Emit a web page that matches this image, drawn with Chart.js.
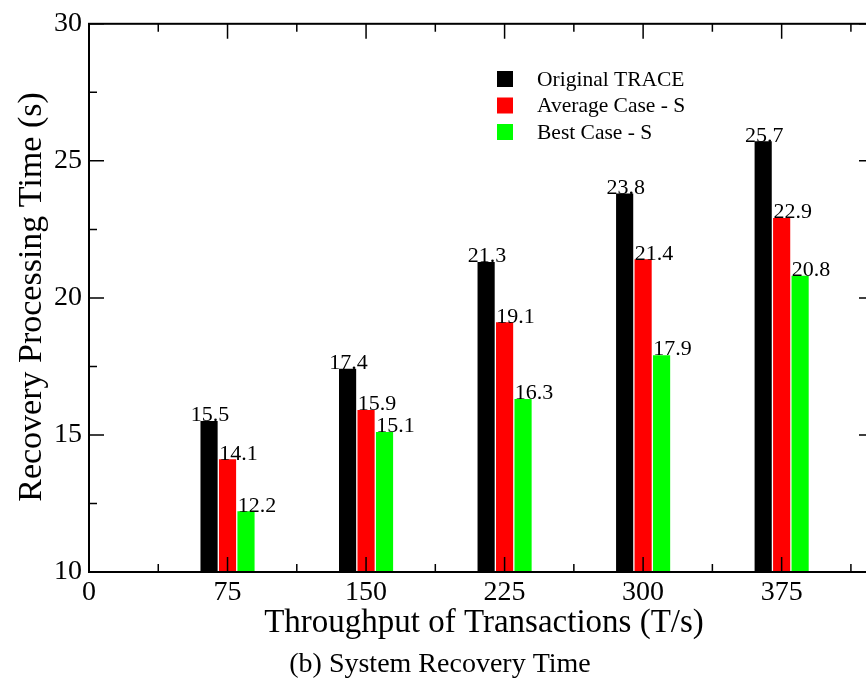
<!DOCTYPE html>
<html>
<head>
<meta charset="utf-8">
<script src="https://cdn.jsdelivr.net/npm/chart.js@4/dist/chart.umd.min.js"></script>
<style>
    html, body { margin: 0; padding: 0; background: #fff; overflow: hidden; }
    canvas { display: block; }
</style>
</head>
<body>
<canvas id="recoveryChart" width="880" height="678"></canvas>
<script>
// ##### Data #####
const throughput = [75, 150, 225, 300, 375]
const originalTrace = [15.5, 17.4, 21.3, 23.8, 25.7]
const averageCase = [14.1, 15.9, 19.1, 21.4, 22.9]
const bestCase = [12.2, 15.1, 16.3, 17.9, 20.8]
const seriesNames = ['Original TRACE', 'Average Case - S', 'Best Case - S']
const seriesColors = ['#000000', '#ff0000', '#00ff00']
const xTicks = [0, 75, 150, 225, 300, 375]
const yTicks = [10, 15, 20, 25, 30]

const SERIF = '"Liberation Serif", "Times New Roman", serif'

// bars sit left / on / right of each throughput value
const groupShift = [-10, 0, 10]
const labelShift = [-10, 0, 0]

function toPoints(values, shift) {
    return throughput.map((t, i) => ({ x: t + shift, y: values[i] }))
}

const decor = {
    id: 'decor',
    afterDatasetsDraw(chart) {
        const ctx = chart.ctx
        const area = chart.chartArea
        const xs = chart.scales.x
        const ys = chart.scales.y
        ctx.save()

        // value labels on top of bars
        ctx.fillStyle = '#000'
        ctx.font = '22px ' + SERIF
        ctx.textAlign = 'left'
        ctx.textBaseline = 'alphabetic'
        chart.data.datasets.forEach((ds, i) => {
            chart.getDatasetMeta(i).data.forEach((bar, j) => {
                const left = bar.x - bar.width / 2
                ctx.fillText(ds.data[j].y.toFixed(1), left + labelShift[i], bar.y)
            })
        })

        // frame
        ctx.strokeStyle = '#000'
        ctx.lineWidth = 2
        ctx.strokeRect(area.left, area.top, area.right - area.left, area.bottom - area.top)

        // ticks, inside, on all four sides
        ctx.lineWidth = 1.5
        ctx.beginPath()
        for (let v = 0; v <= xs.max; v += 37.5) {
            const px = xs.getPixelForValue(v)
            const len = v % 75 === 0 ? 15 : 8
            ctx.moveTo(px, area.bottom)
            ctx.lineTo(px, area.bottom - len)
            ctx.moveTo(px, area.top)
            ctx.lineTo(px, area.top + len)
        }
        for (let v = ys.min; v <= ys.max; v += 2.5) {
            const py = ys.getPixelForValue(v)
            const len = v % 5 === 0 ? 15 : 8
            ctx.moveTo(area.left, py)
            ctx.lineTo(area.left + len, py)
            ctx.moveTo(area.right, py)
            ctx.lineTo(area.right - len, py)
        }
        ctx.stroke()

        // legend
        ctx.font = '21.5px ' + SERIF
        ctx.textBaseline = 'middle'
        seriesNames.forEach((name, i) => {
            const top = 71 + i * 26.5
            ctx.fillStyle = seriesColors[i]
            ctx.fillRect(497, top, 16, 16)
            ctx.fillStyle = '#000'
            ctx.fillText(name, 537, top + 9)
        })

        // axis titles
        ctx.textAlign = 'center'
        ctx.textBaseline = 'alphabetic'
        ctx.font = '33px ' + SERIF
        ctx.fillText('Throughput of Transactions (T/s)', 484, 632)
        ctx.save()
        ctx.translate(41, 297)
        ctx.rotate(-Math.PI / 2)
        ctx.font = '34px ' + SERIF
        ctx.fillText('Recovery Processing Time (s)', 0, 0)
        ctx.restore()

        // caption
        ctx.font = '28px ' + SERIF
        ctx.fillText('(b) System Recovery Time', 440, 672)

        ctx.restore()
    },
}

const ctx = document.getElementById('recoveryChart').getContext('2d')
new Chart(ctx, {
    type: 'bar',
    data: {
        datasets: [originalTrace, averageCase, bestCase].map((values, i) => ({
            label: seriesNames[i],
            data: toPoints(values, groupShift[i]),
            backgroundColor: seriesColors[i],
            borderWidth: 0,
            barThickness: 16.5,
            grouped: false,
        })),
    },
    options: {
        responsive: false,
        animation: false,
        layout: { padding: { top: 22, right: 6, left: 0, bottom: 0 } },
        plugins: {
            legend: { display: false },
            tooltip: { enabled: false },
        },
        scales: {
            x: {
                type: 'linear',
                min: 0,
                max: 425,
                offset: false,
                grid: { display: false, drawTicks: false, offset: false },
                border: { display: false },
                ticks: {
                    stepSize: 75,
                    padding: 4,
                    color: '#000',
                    font: { family: SERIF, size: 28 },
                    maxRotation: 0,
                },
                afterBuildTicks: (scale) => {
                    scale.ticks = xTicks.map((v) => ({ value: v }))
                },
                afterFit: (scale) => {
                    scale.height = 106
                },
            },
            y: {
                min: 10,
                max: 30,
                grid: { display: false, drawTicks: false },
                border: { display: false },
                ticks: {
                    stepSize: 5,
                    padding: 7,
                    color: '#000',
                    font: { family: SERIF, size: 28 },
                },
                afterBuildTicks: (scale) => {
                    scale.ticks = yTicks.map((v) => ({ value: v }))
                },
                afterFit: (scale) => {
                    scale.width = 89
                },
            },
        },
    },
    plugins: [decor],
})
</script>
</body>
</html>
